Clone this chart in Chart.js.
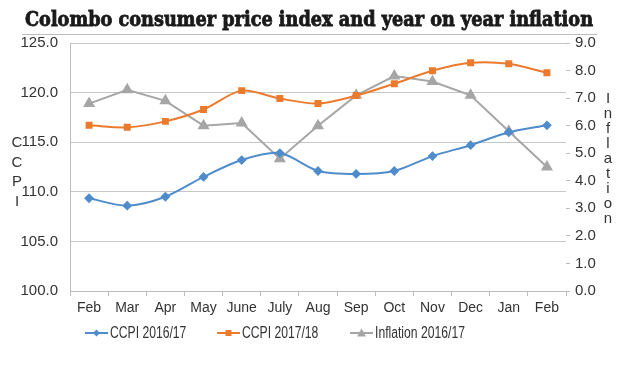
<!DOCTYPE html>
<html>
<head>
<meta charset="utf-8">
<script src="https://cdn.jsdelivr.net/npm/chart.js@4"></script>
<style>
  html, body { margin: 0; padding: 0; background: #fff; }
  #wrap { width: 620px; height: 371px; position: relative; }
</style>
</head>
<body>
<div id="wrap"><canvas id="cpiChart" width="620" height="371"></canvas></div>
<script>
const months = ['Feb', 'Mar', 'Apr', 'May', 'June', 'July', 'Aug', 'Sep', 'Oct', 'Nov', 'Dec', 'Jan', 'Feb'];
const ccpi1617 = [109.35, 108.6, 109.5, 111.5, 113.2, 113.9, 112.1, 111.8, 112.1, 113.6, 114.7, 116.0, 116.7];
const ccpi1718 = [116.7, 116.5, 117.1, 118.3, 120.2, 119.4, 118.9, 119.7, 120.9, 122.2, 123.0, 122.9, 122.0];
const inflation1617 = [6.8, 7.3, 6.9, 6.0, 6.1, 4.8, 6.0, 7.1, 7.8, 7.6, 7.1, 5.8, 4.5];

const titleText = 'Colombo consumer price index and year on year inflation';
const sans = '"Liberation Sans", Arial, sans-serif';

const BLUE = '#4f8ccb';
const ORANGE = '#ec7a2d';
const GRAY = '#a6a6a6';

// x where each legend entry starts (line sample, then label)
const legendX = [85, 217, 350];
const legendY = 333;

function drawMarker(g, style, x, y, color) {
    g.fillStyle = color;
    g.beginPath();
    if (style === 'rectRot') {
        g.moveTo(x, y - 3.5); g.lineTo(x + 3.5, y); g.lineTo(x, y + 3.5); g.lineTo(x - 3.5, y);
    } else if (style === 'rect') {
        g.rect(x - 3, y - 3, 6, 6);
    } else {
        g.moveTo(x, y - 4.5); g.lineTo(x + 4.5, y + 3.5); g.lineTo(x - 4.5, y + 3.5);
    }
    g.closePath(); g.fill();
}

const decor = {
    id: 'decor',
    afterDraw(chart) {
        const ctx = chart.ctx;
        ctx.save();
        // title, squeezed to the reference width and thickened a bit
        ctx.font = 'bold 21px "DejaVu Serif", "Liberation Serif", serif';
        const w = ctx.measureText(titleText).width;
        ctx.fillStyle = '#1a1a1a';
        ctx.strokeStyle = '#1a1a1a';
        ctx.lineWidth = 0.9;
        ctx.textBaseline = 'alphabetic';
        ctx.textAlign = 'left';
        ctx.save();
        ctx.translate(25, 26);
        ctx.scale(568 / w, 1);
        ctx.fillText(titleText, 0, 0);
        ctx.strokeText(titleText, 0, 0);
        ctx.restore();
        // rule under the title
        ctx.strokeStyle = '#bdbdbd';
        ctx.lineWidth = 1;
        ctx.beginPath(); ctx.moveTo(22, 34.5); ctx.lineTo(597, 34.5); ctx.stroke();
        // stacked axis titles
        ctx.fillStyle = '#333';
        ctx.textAlign = 'center';
        ctx.textBaseline = 'middle';
        ctx.font = '15px ' + sans;
        'CCPI'.split('').forEach((ch, i) => ctx.fillText(ch, 17, 143 + i * 19.5));
        'Inflation'.split('').forEach((ch, i) => ctx.fillText(ch, 608, 99 + i * 15));
        // legend: line sample with marker, then label
        chart.data.datasets.forEach((ds, i) => {
            const x = legendX[i];
            ctx.strokeStyle = ds.borderColor;
            ctx.lineWidth = 2;
            ctx.beginPath(); ctx.moveTo(x, legendY); ctx.lineTo(x + 23, legendY); ctx.stroke();
            drawMarker(ctx, ds.pointStyle, x + 11.5, legendY, ds.borderColor);
            ctx.save();
            ctx.translate(x + 25, legendY + 1);
            ctx.scale(0.76, 1);
            ctx.fillStyle = '#333';
            ctx.textAlign = 'left';
            ctx.font = '16px ' + sans;
            ctx.fillText(ds.label, 0, 0);
            ctx.restore();
        });
        ctx.restore();
    }
};

new Chart(document.getElementById('cpiChart').getContext('2d'), {
    type: 'line',
    data: {
        labels: months,
        datasets: [{
            label: 'CCPI 2016/17',
            data: ccpi1617,
            yAxisID: 'y',
            borderColor: BLUE,
            backgroundColor: BLUE,
            borderWidth: 2,
            pointStyle: 'rectRot',
            pointRadius: 3.5,
            tension: 0.3,
        }, {
            label: 'CCPI 2017/18',
            data: ccpi1718,
            yAxisID: 'y',
            borderColor: ORANGE,
            backgroundColor: ORANGE,
            borderWidth: 2,
            pointStyle: 'rect',
            pointRadius: 3.5,
            tension: 0.3,
        }, {
            label: 'Inflation 2016/17',
            data: inflation1617,
            yAxisID: 'y2',
            borderColor: GRAY,
            backgroundColor: GRAY,
            borderWidth: 2,
            pointStyle: 'triangle',
            pointRadius: 5,
            tension: 0,
        }]
    },
    options: {
        responsive: false,
        animation: false,
        layout: { padding: { top: 43, left: 0, right: 0, bottom: 50 } },
        plugins: {
            tooltip: { enabled: false },
            legend: { display: false }
        },
        scales: {
            x: {
                offset: true,
                grid: { display: true, drawOnChartArea: false, offset: true, tickLength: 5, color: '#bdbdbd' },
                border: { color: '#bdbdbd' },
                ticks: { color: '#333', font: { family: sans, size: 14 }, padding: 4, maxRotation: 0, autoSkip: false },
                afterFit(s) { s.height = 30; }
            },
            y: {
                position: 'left',
                min: 100, max: 125,
                ticks: { stepSize: 5, color: '#333', padding: 12, font: { family: sans, size: 15 }, callback: v => v.toFixed(1) },
                grid: { color: '#c6c6c6', drawTicks: false },
                border: { color: '#bdbdbd' },
                afterFit(s) { s.width = 70; }
            },
            y2: {
                position: 'right',
                min: 0, max: 9,
                ticks: { stepSize: 1, color: '#333', padding: 5, font: { family: sans, size: 15 }, callback: v => v.toFixed(1) },
                grid: { drawOnChartArea: false, tickLength: 4, color: '#bdbdbd' },
                border: { display: false },
                afterFit(s) { s.width = 54; }
            }
        }
    },
    plugins: [decor]
});
</script>
</body>
</html>
